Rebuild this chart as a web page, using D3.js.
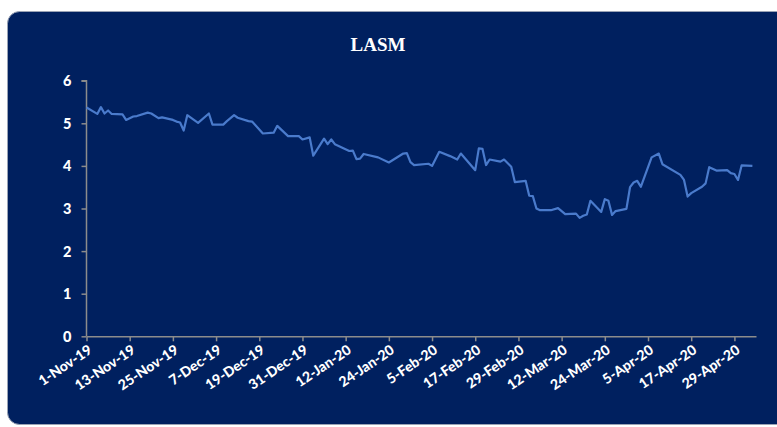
<!DOCTYPE html>
<html><head><meta charset="utf-8">
<script src="https://cdn.jsdelivr.net/npm/d3@7"></script>
<style>body{margin:0;background:#fff;}svg{display:block;}</style>
</head><body>
<script>
const title = "LASM";
const dates = ["2019-11-01","2019-11-04","2019-11-05","2019-11-06","2019-11-07","2019-11-08","2019-11-11","2019-11-12","2019-11-14","2019-11-15","2019-11-18","2019-11-19","2019-11-21","2019-11-22","2019-11-25","2019-11-26","2019-11-27","2019-11-28","2019-11-29","2019-12-02","2019-12-05","2019-12-06","2019-12-09","2019-12-10","2019-12-12","2019-12-13","2019-12-16","2019-12-17","2019-12-20","2019-12-23","2019-12-24","2019-12-27","2019-12-30","2019-12-31","2020-01-02","2020-01-03","2020-01-06","2020-01-07","2020-01-08","2020-01-09","2020-01-13","2020-01-14","2020-01-15","2020-01-16","2020-01-17","2020-01-21","2020-01-24","2020-01-28","2020-01-29","2020-01-30","2020-01-31","2020-02-04","2020-02-05","2020-02-07","2020-02-10","2020-02-12","2020-02-13","2020-02-17","2020-02-18","2020-02-19","2020-02-20","2020-02-21","2020-02-24","2020-02-25","2020-02-27","2020-02-28","2020-03-02","2020-03-03","2020-03-04","2020-03-05","2020-03-06","2020-03-09","2020-03-11","2020-03-13","2020-03-16","2020-03-17","2020-03-18","2020-03-19","2020-03-20","2020-03-23","2020-03-24","2020-03-25","2020-03-26","2020-03-27","2020-03-30","2020-03-31","2020-04-01","2020-04-02","2020-04-03","2020-04-06","2020-04-08","2020-04-09","2020-04-14","2020-04-15","2020-04-16","2020-04-17","2020-04-20","2020-04-21","2020-04-22","2020-04-24","2020-04-27","2020-04-28","2020-04-29","2020-04-30","2020-05-01","2020-05-04"];
const values = [5.37,5.22,5.38,5.23,5.30,5.22,5.21,5.08,5.16,5.17,5.25,5.23,5.12,5.14,5.08,5.04,5.02,4.83,5.19,5.01,5.23,4.97,4.97,5.05,5.19,5.13,5.05,5.04,4.76,4.78,4.94,4.70,4.70,4.62,4.67,4.24,4.64,4.51,4.62,4.51,4.35,4.36,4.16,4.17,4.28,4.20,4.08,4.29,4.30,4.09,4.02,4.05,4.00,4.33,4.23,4.15,4.29,3.90,4.41,4.40,4.02,4.15,4.10,4.15,3.98,3.62,3.65,3.30,3.29,3.00,2.96,2.96,3.01,2.87,2.88,2.78,2.83,2.86,3.18,2.92,3.22,3.18,2.85,2.94,2.99,3.50,3.61,3.65,3.51,4.20,4.29,4.04,3.79,3.67,3.28,3.36,3.51,3.59,3.97,3.89,3.90,3.83,3.81,3.67,4.01,4.00];
const xTickLabels = ["1-Nov-19","13-Nov-19","25-Nov-19","7-Dec-19","19-Dec-19","31-Dec-19","12-Jan-20","24-Jan-20","5-Feb-20","17-Feb-20","29-Feb-20","12-Mar-20","24-Mar-20","5-Apr-20","17-Apr-20","29-Apr-20"];
const yTicks = [0,1,2,3,4,5,6];
const axisStart = "2019-11-01", axisEnd = "2020-05-05";

const W = 777, H = 427;
const parseISO = d3.utcParse("%Y-%m-%d");
const parseLbl = d3.utcParse("%d-%b-%y");
const fmtLbl = d3.utcFormat("%-d-%b-%y");

const svg = d3.select("body").append("svg").attr("width", W).attr("height", H);
svg.append("rect").attr("x", 7.5).attr("y", 11.5).attr("width", 790).attr("height", 413)
  .attr("rx", 12).attr("fill", "#00205f").attr("stroke", "#9aa3b5").attr("stroke-width", 1);

svg.append("text").attr("x", 378).attr("y", 51).attr("text-anchor", "middle")
  .attr("fill", "#fff").attr("font-family", "'Liberation Serif','Times New Roman',serif")
  .attr("font-weight", "bold").attr("font-size", 19).text(title);

const x = d3.scaleUtc().domain([parseISO(axisStart), parseISO(axisEnd)]).range([86.5, 756]);
const y = d3.scaleLinear().domain([0, 6]).range([336.3, 80.7]);

const axisColor = "#8c8c8c";
const yAxis = svg.append("g").attr("transform", "translate(86.5,0)")
  .call(d3.axisLeft(y).tickValues(yTicks).tickSize(5).tickPadding(10).tickFormat(d3.format("d")));
const xAxis = svg.append("g").attr("transform", "translate(0,336.3)")
  .call(d3.axisBottom(x).tickValues(xTickLabels.map(parseLbl)).tickSize(5).tickFormat(fmtLbl).tickSizeOuter(0));
[yAxis, xAxis].forEach(g => {
  g.select(".domain").attr("stroke", axisColor).attr("stroke-width", 1.5);
  g.selectAll(".tick line").attr("stroke", axisColor).attr("stroke-width", 1.5);
  g.selectAll("text").attr("fill", "#fff").attr("font-family", "Lato,'Open Sans',sans-serif").attr("font-weight", "900");
});
yAxis.select(".domain").attr("d", `M-5,${y(6)}H0V${y(0)}`);
yAxis.selectAll("text").attr("font-size", 14.5).attr("dy", "0.35em");
xAxis.selectAll("text").attr("font-size", 14).attr("text-anchor", "end")
  .attr("dy", 0).attr("y", 0).attr("transform", "translate(6,16) rotate(-34)");

const pts = dates.map((d, i) => [parseISO(d), values[i]]);
svg.append("path").datum(pts).attr("fill", "none").attr("stroke", "#4a7bcc").attr("stroke-width", 2.2)
  .attr("stroke-linejoin", "round")
  .attr("d", d3.line().x(d => x(d[0])).y(d => y(d[1])));
</script>
</body></html>
